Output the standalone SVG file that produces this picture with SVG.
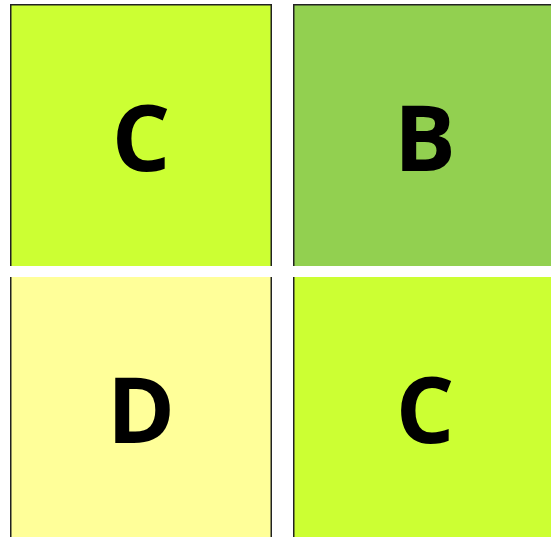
<svg xmlns="http://www.w3.org/2000/svg" width="551" height="537" viewBox="0 0 551 537">
<style>
.lbl{font-family:"Open Sans","Liberation Sans",sans-serif;font-weight:bold;font-size:92px;fill:#000;text-anchor:middle}
.edge{stroke:#222;stroke-width:1.5;fill:none}
</style>
<rect width="551" height="537" fill="#fff"/>
<g id="tl">
<rect x="10" y="4" width="262" height="262" fill="#CCFF33"/>
<path class="edge" d="M10.75,266V4.75H271.25V266"/>
<text class="lbl" x="141" y="171">C</text>
</g>
<g id="tr">
<rect x="293" y="4" width="258" height="262" fill="#92D050"/>
<path class="edge" d="M293.75,266V4.75H551"/>
<text class="lbl" x="425" y="171">B</text>
</g>
<g id="bl">
<rect x="10" y="277" width="262" height="260" fill="#FFFF99"/>
<path class="edge" d="M10.75,277V537M271.25,277V537"/>
<text class="lbl" x="141" y="443">D</text>
</g>
<g id="br">
<rect x="293" y="277" width="258" height="260" fill="#CCFF33"/>
<path class="edge" d="M293.75,277V537"/>
<text class="lbl" x="425" y="443">C</text>
</g>
<g id="connectors"/>
</svg>
